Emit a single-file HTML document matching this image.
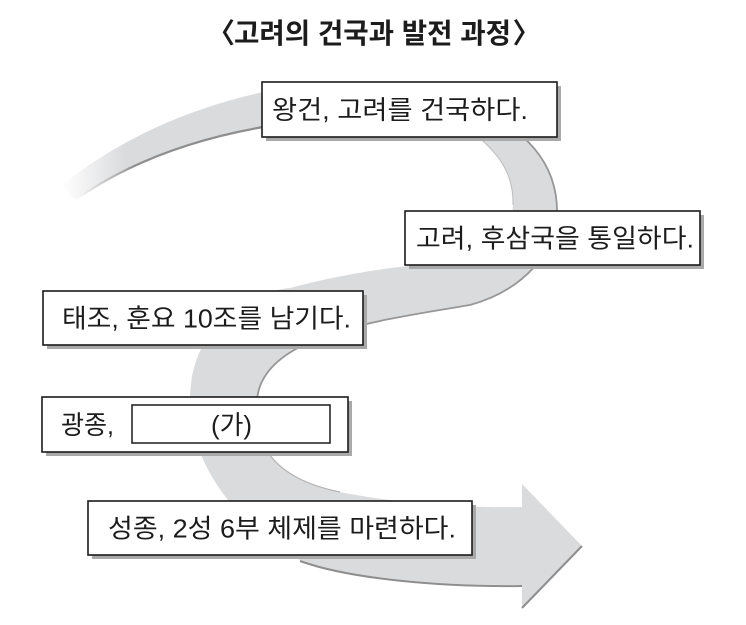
<!DOCTYPE html>
<html>
<head>
<meta charset="utf-8">
<style>
  html,body{margin:0;padding:0;background:#fff;}
  svg{display:block;}
  .t{font-family:"Liberation Sans","Noto Sans CJK KR",sans-serif;fill:#1c1c1c;}
</style>
</head>
<body>
<svg width="746" height="625" viewBox="0 0 746 625" xmlns="http://www.w3.org/2000/svg">
  <defs>
    <linearGradient id="gf" gradientUnits="userSpaceOnUse" x1="62" y1="0" x2="125" y2="0">
      <stop offset="0" stop-color="#ffffff"/>
      <stop offset="1" stop-color="#dadbdd"/>
    </linearGradient>
    <linearGradient id="gs" gradientUnits="userSpaceOnUse" x1="75" y1="0" x2="135" y2="0">
      <stop offset="0" stop-color="#ffffff"/>
      <stop offset="1" stop-color="#8e8e8e"/>
    </linearGradient>
  </defs>

  <!-- ribbon -->
  <path fill="url(#gf)" d="M 62,185 Q 147,117.5 263,92 C 420,72 560,110 557,215 C 556,250 525,290 470,305 C 380,320 262,335 257,400 C 252,440 270,478 340,492 C 400,504 470,508 522,507 L 522,484 L 582,546 L 522,608 L 522,585 C 440,586 350,578 300,560 C 230,520 190,460 190,400 C 190,340 230,295 290,288 C 330,277 380,268 420,265 C 480,262 510,240 513,205 C 514,170 495,150 470,130 C 430,95 330,100 263,127 Q 151,146.5 75,200 Z"/>

  <!-- ribbon shading edges -->
  <path d="M 263,127 Q 151,146.5 75,200" fill="none" stroke="url(#gs)" stroke-width="2.2"/>
  <path d="M 263,92 C 420,72 560,110 557,215 C 556,250 525,290 470,305 C 380,320 262,335 257,400" fill="none" stroke="#979797" stroke-width="1.8"/>
  <path d="M 257,400 C 252,440 270,478 340,492" fill="none" stroke="#b4b4b4" stroke-width="1.2"/>
  <path d="M 513,205 C 514,170 495,150 470,130" fill="none" stroke="#bcbcbc" stroke-width="1"/>
  <path d="M 582,546 L 522,608" fill="none" stroke="#8e8e8e" stroke-width="2"/>
  <path d="M 522,586 C 440,587 350,579 300,561" fill="none" stroke="#8e8e8e" stroke-width="2"/>

  <!-- title -->
  <text class="t" x="221" y="43" font-size="28" font-weight="bold" text-anchor="middle">〈</text>
  <text class="t" x="234" y="43" font-size="28" font-weight="bold" textLength="277" lengthAdjust="spacingAndGlyphs">고려의 건국과 발전 과정</text>
  <text class="t" x="526.5" y="43" font-size="28" font-weight="bold" text-anchor="middle">〉</text>

  <!-- box 1 -->
  <rect x="266" y="86" width="295" height="55" fill="#a9a9a9"/>
  <rect x="262" y="82" width="295" height="55" fill="#fff" stroke="#1a1a1a" stroke-width="1.6"/>
  <text class="t" x="272" y="119" font-size="26" textLength="256" lengthAdjust="spacingAndGlyphs">왕건, 고려를 건국하다.</text>

  <!-- box 2 -->
  <rect x="409" y="215" width="295" height="54" fill="#a9a9a9"/>
  <rect x="405" y="211" width="295" height="54" fill="#fff" stroke="#1a1a1a" stroke-width="1.6"/>
  <text class="t" x="416" y="247.5" font-size="26" textLength="278" lengthAdjust="spacingAndGlyphs">고려, 후삼국을 통일하다.</text>

  <!-- box 3 -->
  <rect x="47" y="295" width="320" height="54" fill="#a9a9a9"/>
  <rect x="43" y="291" width="320" height="54" fill="#fff" stroke="#1a1a1a" stroke-width="1.6"/>
  <text class="t" x="62" y="327.5" font-size="26" textLength="289" lengthAdjust="spacingAndGlyphs">태조, 훈요 10조를 남기다.</text>

  <!-- box 4 -->
  <rect x="46" y="401" width="306" height="55" fill="#a9a9a9"/>
  <rect x="42" y="397" width="306" height="55" fill="#fff" stroke="#1a1a1a" stroke-width="1.6"/>
  <text class="t" x="61" y="434" font-size="26" textLength="53" lengthAdjust="spacingAndGlyphs">광종,</text>
  <rect x="132" y="405" width="198" height="38" fill="#fff" stroke="#1a1a1a" stroke-width="1.5"/>
  <text class="t" x="211" y="434" font-size="26" textLength="41" lengthAdjust="spacingAndGlyphs">(가)</text>

  <!-- box 5 -->
  <rect x="92" y="505" width="384" height="54" fill="#a9a9a9"/>
  <rect x="88" y="501" width="384" height="54" fill="#fff" stroke="#1a1a1a" stroke-width="1.6"/>
  <text class="t" x="108" y="537.5" font-size="26" textLength="348" lengthAdjust="spacingAndGlyphs">성종, 2성 6부 체제를 마련하다.</text>
</svg>
</body>
</html>
